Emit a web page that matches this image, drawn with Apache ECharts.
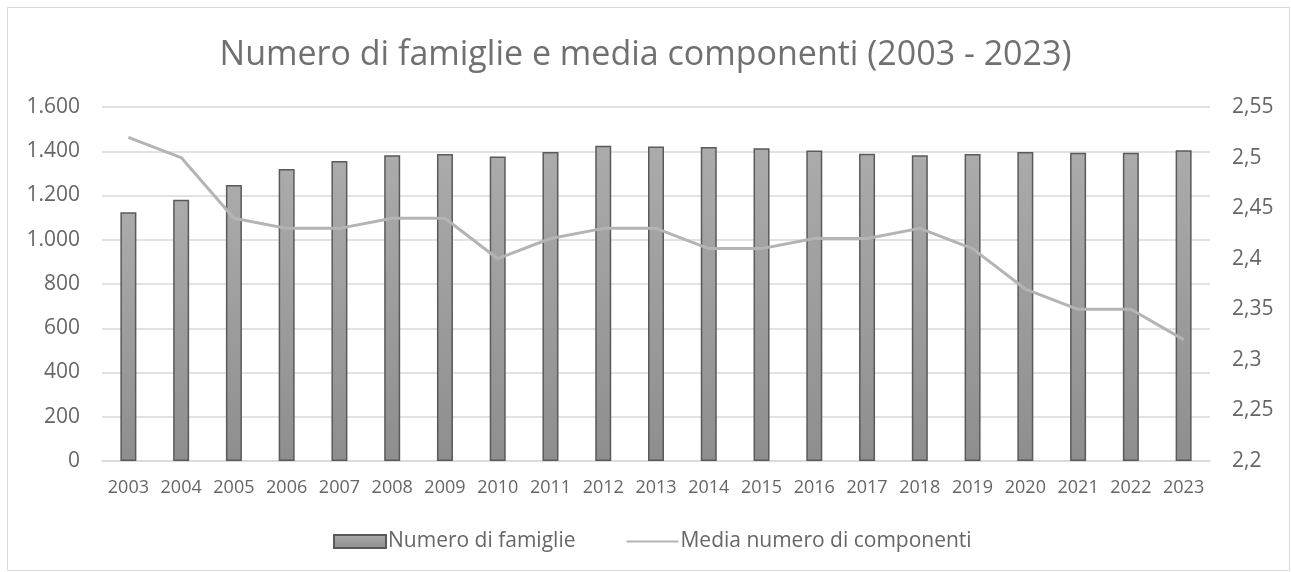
<!DOCTYPE html>
<html>
<head>
<meta charset="utf-8">
<script src="https://cdn.jsdelivr.net/npm/echarts@6/dist/echarts.min.js"></script>
<style>
  html, body { margin: 0; padding: 0; background: #ffffff; }
  #chart { width: 1291px; height: 572px; }
</style>
</head>
<body>
<div id="chart"></div>
<script>
// Anni di riferimento
const anni = ['2003','2004','2005','2006','2007','2008','2009','2010','2011','2012','2013',
              '2014','2015','2016','2017','2018','2019','2020','2021','2022','2023'];
// Numero di famiglie residenti
const numeroFamiglie = [1124, 1181, 1248, 1320, 1356, 1382, 1388, 1376, 1397, 1425, 1422,
                        1419, 1413, 1403, 1389, 1382, 1388, 1397, 1393, 1393, 1404];
// Media numero di componenti per famiglia
const mediaComponenti = [2.52, 2.50, 2.44, 2.43, 2.43, 2.44, 2.44, 2.40, 2.42, 2.43, 2.43,
                         2.41, 2.41, 2.42, 2.42, 2.43, 2.41, 2.37, 2.35, 2.35, 2.32];

const FONT = 'Open Sans';
const GREY_TITLE = '#707070';
const GREY_TEXT = '#666666';

function fmtMigliaia(v) {
  return String(Math.round(v)).replace(/\B(?=(\d{3})+(?!\d))/g, '.');
}
function fmtDecimale(v) {
  return String(Math.round(v * 100) / 100).replace('.', ',');
}

const chart = echarts.init(document.getElementById('chart'), null, { renderer: 'canvas' });

chart.setOption({
  backgroundColor: '#ffffff',
  animation: false,
  title: {
    text: 'Numero di famiglie e media componenti (2003 - 2023)',
    left: 'center',
    top: 33,
    textStyle: { fontFamily: FONT, fontSize: 34, fontWeight: 'normal', color: GREY_TITLE }
  },
  graphic: [{
    type: 'rect',
    shape: { x: 7.5, y: 7.5, width: 1282, height: 563 },
    style: { fill: 'none', stroke: '#d9d9d9', lineWidth: 1 },
    z: -1
  }],
  legend: {
    bottom: 15,
    left: 328,
    itemGap: 50,
    itemWidth: 52,
    itemHeight: 13,
    textStyle: { fontFamily: FONT, fontSize: 21, color: GREY_TEXT, padding: [0, 0, 0, -3] },
    data: [
      { name: 'Numero di famiglie', icon: 'rect' },
      { name: 'Media numero di componenti', itemStyle: { opacity: 0 } }
    ]
  },
  grid: { left: 102, right: 81, top: 107, bottom: 111, containLabel: false },
  xAxis: {
    type: 'category',
    data: anni,
    axisLine: { show: true, lineStyle: { color: '#d9d9d9', width: 1.5 } },
    axisTick: { show: false },
    axisLabel: { interval: 0, fontFamily: FONT, fontSize: 18, color: GREY_TEXT, margin: 18 }
  },
  yAxis: [
    {
      type: 'value',
      min: 0, max: 1600, interval: 200,
      axisLine: { show: false },
      axisTick: { show: false },
      splitLine: { lineStyle: { color: '#d9d9d9', width: 1.5 } },
      axisLabel: { fontFamily: FONT, fontSize: 21, color: GREY_TEXT, margin: 22, formatter: fmtMigliaia }
    },
    {
      type: 'value',
      min: 2.2, max: 2.55, interval: 0.05,
      axisLine: { show: false },
      axisTick: { show: false },
      splitLine: { show: false },
      axisLabel: { fontFamily: FONT, fontSize: 21, color: GREY_TEXT, margin: 22, formatter: fmtDecimale }
    }
  ],
  series: [
    {
      name: 'Numero di famiglie',
      type: 'bar',
      yAxisIndex: 0,
      data: numeroFamiglie,
      barWidth: 16,
      itemStyle: {
        color: new echarts.graphic.LinearGradient(0, 0, 0, 1, [
          { offset: 0, color: '#ababab' },
          { offset: 1, color: '#8e8e8e' }
        ]),
        borderColor: '#5a5a5a',
        borderWidth: 1.5
      }
    },
    {
      name: 'Media numero di componenti',
      type: 'line',
      yAxisIndex: 1,
      data: mediaComponenti,
      symbol: 'none',
      lineStyle: { color: '#b4b4b4', width: 3 },
      itemStyle: { color: '#b4b4b4' },
      z: 3
    }
  ]
});
</script>
</body>
</html>
